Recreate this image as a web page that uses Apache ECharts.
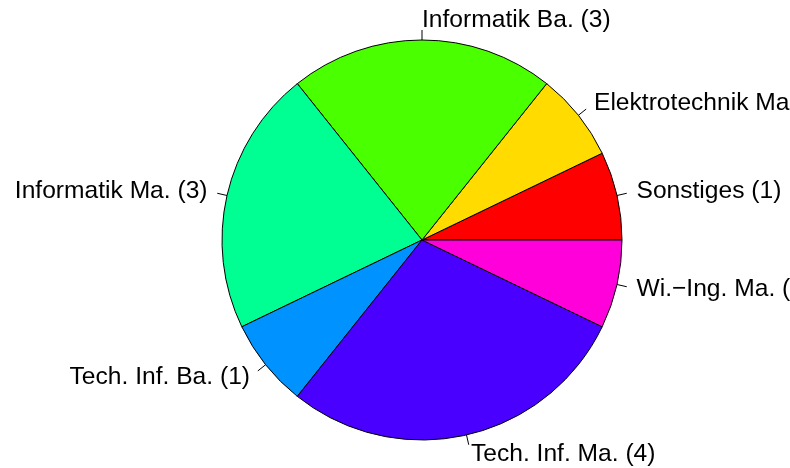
<!DOCTYPE html>
<html>
<head>
<meta charset="utf-8">
<script src="https://cdn.jsdelivr.net/npm/echarts@6/dist/echarts.min.js"></script>
<style>
  html, body { margin: 0; padding: 0; background: #fff; }
  #main { width: 790px; height: 468px; }
</style>
</head>
<body>
<div id="main"></div>
<script>
// slices in drawing order (counter-clockwise from 3 o'clock)
var categories = ["Sonstiges", "Elektrotechnik Ma.", "Informatik Ba.", "Informatik Ma.", "Tech. Inf. Ba.", "Tech. Inf. Ma.", "Wi.\u2212Ing. Ma."];
var counts = [1, 1, 3, 3, 1, 4, 1];
var colors = ["#FF0000", "#FFDB00", "#49FF00", "#00FF92", "#0092FF", "#4900FF", "#FF00DB"];

var myChart = echarts.init(document.getElementById("main"));

var data = categories.map(function (name, i) {
  return {
    name: name + " (" + counts[i] + ")",
    value: counts[i],
    itemStyle: { color: colors[i] }
  };
});

myChart.setOption({
  animation: false,
  series: [
    {
      type: "pie",
      center: [422, 240],
      radius: [0, 200],
      startAngle: 0,
      clockwise: false,
      avoidLabelOverlap: false,
      minShowLabelAngle: 0,
      data: data,
      itemStyle: { borderColor: "#000", borderWidth: 1 },
      label: {
        show: true,
        position: "outside",
        formatter: "{b}",
        color: "#000",
        fontFamily: "Liberation Sans, Arial, sans-serif",
        fontSize: 24.6,
        overflow: "none",
        distanceToLabelLine: 0
      },
      labelLine: {
        show: true,
        length: 10,
        length2: 0,
        lineStyle: { color: "#000", width: 1 }
      },
      // push the text a bit further out along the radius, keep the short tick
      labelLayout: function (params) {
        var p = params.labelLinePoints;
        if (!p) return {};
        var vx = p[1][0] - p[0][0], vy = p[1][1] - p[0][1];
        var len = Math.sqrt(vx * vx + vy * vy) || 1;
        return {
          dx: vx / len * 10,
          dy: vy / len * 10,
          labelLinePoints: p
        };
      },
      emphasis: { disabled: true }
    }
  ]
});
</script>
</body>
</html>
